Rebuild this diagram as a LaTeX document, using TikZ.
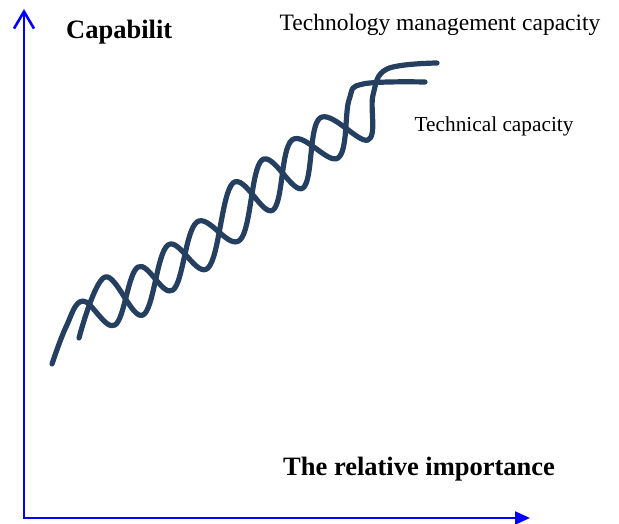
\documentclass[tikz,border=0pt]{standalone}
\usepackage{fontspec}
\setmainfont{Liberation Serif}
\usetikzlibrary{arrows.meta}
\definecolor{helix}{RGB}{36,63,96}
\begin{document}
\begin{tikzpicture}[x=1pt,y=-1pt,
  axis/.style={blue},
  strand/.style={helix, line width=5.2pt, line cap=round, line join=round},
  lbl/.style={inner sep=0pt, anchor=base west}]
\useasboundingbox (0,0) rectangle (619,524);
% axes
\coordinate (origin) at (24,519);
\coordinate (ytip) at (24,9);
\coordinate (xorigin) at (23,518);
\coordinate (xtip) at (530,518);
\draw[axis, line width=2.6pt, -{Straight Barb[length=17pt,width=20pt]}] (origin) -- (ytip);
\draw[axis, line width=2.2pt, -{Triangle[length=15pt,width=13pt]}] (xorigin) -- (xtip);
% labels
\node[lbl, font=\bfseries\fontsize{26.5}{30}\selectfont] (cap) at (66,39) {Capabilit};
\node[lbl, font=\fontsize{23.5}{28}\selectfont] (tmc) at (279.5,30.5) {Technology management capacity};
\node[lbl, font=\fontsize{21.3}{25}\selectfont] (tc) at (414.5,131.5) {Technical capacity};
\node[lbl, font=\bfseries\fontsize{26.5}{30}\selectfont] (rel) at (283,475) {The relative importance};
% strand 1 (technology management capacity)
\draw[strand] plot[smooth, tension=0.62] coordinates {
  (52,364) (66,327) (83,301) (115,325) (138,267) (173,290) (197,222) (240,240)
  (262,160) (303,188) (320,118) (368,140) (373,95) (387,69) (437,63)};
% strand 2 (technical capacity)
\draw[strand] plot[smooth, tension=0.62] coordinates {
  (79,338) (105,277) (143,315) (168,245) (208,268) (233,183) (273,210)
  (292,140) (338,158) (349,100) (363,84) (425,82)};
\end{tikzpicture}
\end{document}
